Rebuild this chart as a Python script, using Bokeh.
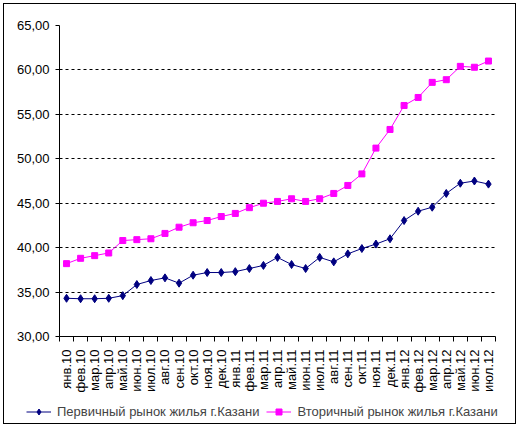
from bokeh.plotting import figure
from bokeh.models import Range1d, FixedTicker, Legend, LegendItem
from bokeh.layouts import column
from bokeh.embed import file_html
from bokeh.resources import INLINE
import math

months = ["янв.10", "фев.10", "мар.10", "апр.10", "май.10", "июн.10", "июл.10",
          "авг.10", "сен.10", "окт.10", "ноя.10", "дек.10", "янв.11", "фев.11",
          "мар.11", "апр.11", "май.11", "июн.11", "июл.11", "авг.11", "сен.11",
          "окт.11", "ноя.11", "дек.11", "янв.12", "фев.12", "мар.12", "апр.12",
          "май.12", "июн.12", "июл.12"]

primary = [34.3, 34.25, 34.25, 34.3, 34.6, 35.85, 36.3, 36.6, 36.0, 36.9, 37.2,
           37.2, 37.3, 37.65, 38.0, 38.9, 38.1, 37.65, 38.9, 38.4, 39.3, 39.9,
           40.4, 41.0, 43.05, 44.1, 44.55, 46.1, 47.25, 47.5, 47.15]

secondary = [38.2, 38.8, 39.1, 39.4, 40.8, 40.9, 41.0, 41.6, 42.3, 42.8, 43.05,
             43.5, 43.85, 44.5, 45.0, 45.2, 45.5, 45.2, 45.5, 46.1, 47.0, 48.3,
             51.2, 53.3, 56.0, 56.9, 58.6, 58.9, 60.4, 60.3, 61.0]

y_ticks = [30, 35, 40, 45, 50, 55, 60, 65]
label_primary = "Первичный рынок жилья г.Казани"
label_secondary = "Вторичный рынок жилья г.Казани"

FONT = "Liberation Sans"
BLUE = "#000080"
PINK = "#FF00FF"

xs = [i + 0.5 for i in range(len(months))]

p = figure(width=511, height=395, output_backend="svg", toolbar_location=None,
           x_range=Range1d(0, len(months)), y_range=Range1d(30, 65),
           min_border_left=55, min_border_right=20, min_border_top=21,
           min_border_bottom=63)
p.outline_line_color = None
p.background_fill_color = "white"
p.border_fill_color = "white"
p.frame_align = False

# x axis: labels at centres, tick marks between categories
p.xaxis.ticker = FixedTicker(ticks=xs, minor_ticks=list(range(len(months) + 1)))
p.xaxis.major_label_overrides = {x: m for x, m in zip(xs, months)}
p.xaxis.major_label_orientation = math.pi / 2
p.xaxis.major_tick_out = 0
p.xaxis.major_tick_in = 0
p.xaxis.minor_tick_out = 5
p.xaxis.minor_tick_in = 0
p.xaxis.major_label_standoff = 8

p.yaxis.ticker = FixedTicker(ticks=y_ticks)
p.yaxis.major_label_overrides = {t: f"{t:.2f}".replace(".", ",") for t in y_ticks}
p.yaxis.major_tick_out = 4
p.yaxis.major_tick_in = 0
p.yaxis.major_label_standoff = 6

for ax in (p.xaxis, p.yaxis):
    ax.axis_line_color = "black"
    ax.major_tick_line_color = "black"
    ax.minor_tick_line_color = "black"
    ax.major_label_text_font = FONT
    ax.major_label_text_font_size = "13px"
    ax.major_label_text_color = "black"
p.yaxis.minor_tick_line_color = None

p.xgrid.grid_line_color = None
p.ygrid.ticker = FixedTicker(ticks=y_ticks[1:])
p.ygrid.grid_line_color = "black"
p.ygrid.grid_line_dash = "3 3"
p.ygrid.grid_line_width = 1

p.line(xs, primary, line_color=BLUE, line_width=1)
p.scatter(xs, primary, marker="diamond", size=8, fill_color=BLUE, line_color=BLUE)
p.line(xs, secondary, line_color=PINK, line_width=1)
p.scatter(xs, secondary, marker="square", size=6, fill_color=PINK, line_color=PINK)

# legend strip under the chart (its own series sit outside its view range)
lg = figure(width=511, height=24, output_backend="svg", toolbar_location=None,
            x_range=Range1d(-10, -9), y_range=Range1d(0, 1),
            x_axis_location=None, y_axis_location=None, min_border=0)
lg.frame_align = False
lg.grid.visible = False
lg.outline_line_color = None
lg.border_fill_color = "white"
lg.background_fill_color = "white"
k1 = lg.line(xs, primary, line_color=BLUE, line_width=1)
m1 = lg.scatter(xs, primary, marker="diamond", size=8, fill_color=BLUE, line_color=BLUE)
k2 = lg.line(xs, secondary, line_color=PINK, line_width=1)
m2 = lg.scatter(xs, secondary, marker="square", size=6, fill_color=PINK, line_color=PINK)

legend = Legend(items=[LegendItem(label=label_primary, renderers=[k1, m1]),
                       LegendItem(label=label_secondary, renderers=[k2, m2])],
                orientation="horizontal", location=(22, 4))
legend.border_line_color = None
legend.background_fill_alpha = 0
legend.label_text_font = FONT
legend.label_text_font_size = "13px"
legend.label_height = 15
legend.glyph_height = 15
legend.glyph_width = 25
legend.label_standoff = 6
legend.spacing = 7
legend.padding = 0
legend.margin = 0
lg.add_layout(legend, "center")

layout = column(p, lg, spacing=0)
layout.margin = (3, 0, 0, 3)
layout.styles = {"border": "1px solid black", "background-color": "white"}

open("out.html", "w").write(file_html(layout, INLINE))
